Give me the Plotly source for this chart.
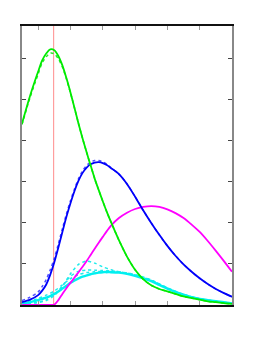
import plotly.graph_objects as go

# x sample positions (data units)
x_main = [0.5, 0.75, 1.0, 1.125, 1.25, 1.375, 1.5, 1.625, 1.75, 1.875, 2.0, 2.125, 2.25,
          2.375, 2.5, 2.625, 2.75, 2.875, 3.0, 3.125, 3.25, 3.5, 3.75, 4.0, 4.25, 4.5,
          4.75, 5.0, 5.25, 5.5, 5.75, 6.0, 6.25, 6.5, 6.75, 7.0]

green = [4.42, 5.10, 5.69, 5.96, 6.13, 6.23, 6.21, 6.07, 5.84, 5.53, 5.18, 4.80, 4.42,
         4.06, 3.72, 3.40, 3.08, 2.80, 2.53, 2.27, 2.03, 1.58, 1.18, 0.86, 0.63, 0.48,
         0.39, 0.33, 0.27, 0.21, 0.17, 0.13, 0.09, 0.07, 0.045, 0.025]
green_sample = [4.40, 5.06, 5.63, 5.90, 6.05, 6.14, 6.12, 6.00, 5.80, 5.51, 5.17, 4.80, 4.42,
                4.06, 3.72, 3.40, 3.08, 2.80, 2.53, 2.27, 2.03, 1.58, 1.18, 0.86, 0.63, 0.48,
                0.39, 0.33, 0.27, 0.21, 0.17, 0.13, 0.09, 0.07, 0.045, 0.025]

blue = [0.07, 0.13, 0.24, 0.35, 0.50, 0.74, 1.04, 1.40, 1.78, 2.15, 2.48, 2.78, 3.03,
        3.22, 3.35, 3.43, 3.47, 3.48, 3.46, 3.41, 3.34, 3.19, 2.95, 2.64, 2.31, 2.00,
        1.71, 1.44, 1.20, 0.99, 0.81, 0.65, 0.51, 0.39, 0.29, 0.20]
blue_sample = [0.11, 0.19, 0.32, 0.45, 0.62, 0.86, 1.14, 1.49, 1.86, 2.22, 2.54, 2.83, 3.08,
               3.27, 3.40, 3.48, 3.52, 3.52, 3.49, 3.43, 3.35, 3.19, 2.95, 2.64, 2.31, 2.00,
               1.71, 1.44, 1.20, 0.99, 0.81, 0.65, 0.51, 0.39, 0.29, 0.20]

magenta = [0.0, 0.0, 0.0, 0.0, 0.0, 0.0, 0.01, 0.12, 0.27, 0.41, 0.54, 0.67, 0.80,
           0.93, 1.07, 1.22, 1.37, 1.52, 1.66, 1.80, 1.93, 2.12, 2.25, 2.34, 2.39, 2.41,
           2.39, 2.33, 2.24, 2.12, 1.96, 1.78, 1.56, 1.32, 1.07, 0.81]

cyan = [0.03, 0.07, 0.12, 0.15, 0.18, 0.22, 0.27, 0.33, 0.40, 0.47, 0.54, 0.60, 0.65,
        0.69, 0.72, 0.75, 0.77, 0.79, 0.80, 0.80, 0.80, 0.79, 0.76, 0.71, 0.65, 0.58,
        0.49, 0.40, 0.32, 0.25, 0.19, 0.15, 0.12, 0.09, 0.07, 0.04]

x_cyan_var = [0.5, 1.0, 1.25, 1.5, 1.75, 2.0, 2.25, 2.5, 2.75, 3.0, 3.25, 3.5, 3.75, 4.0,
              4.5, 5.0, 5.5, 6.0, 6.5, 7.0]
cyan_var1 = [0.02, 0.06, 0.11, 0.23, 0.46, 0.76, 0.99, 1.07, 1.02, 0.93, 0.86, 0.81, 0.78,
             0.73, 0.60, 0.41, 0.25, 0.15, 0.09, 0.04]
cyan_var2 = [0.02, 0.07, 0.13, 0.25, 0.46, 0.70, 0.82, 0.85, 0.85, 0.84, 0.83, 0.81, 0.78,
             0.74, 0.61, 0.42, 0.26, 0.15, 0.09, 0.04]
cyan_var3 = [0.05, 0.16, 0.24, 0.34, 0.49, 0.64, 0.74, 0.79, 0.81, 0.82, 0.81, 0.80, 0.77,
             0.72, 0.60, 0.41, 0.25, 0.15, 0.09, 0.04]

red_x = 1.48
x_ticks = [1, 2, 3, 4, 5, 6]
y_ticks = [1, 2, 3, 4, 5, 6]

fig = go.Figure()

fig.add_trace(go.Scatter(x=[red_x, red_x], y=[0, 6.8], mode="lines",
                         line=dict(color="rgb(255,140,140)", width=1), showlegend=False))

for ys in (cyan_var1, cyan_var2, cyan_var3):
    fig.add_trace(go.Scatter(x=x_cyan_var, y=ys, mode="lines", line_shape="spline",
                             line=dict(color="rgb(30,235,235)", width=1.5, dash="dot", smoothing=0.8),
                             showlegend=False))
fig.add_trace(go.Scatter(x=x_main, y=cyan, mode="lines", line_shape="spline",
                         line=dict(color="rgb(0,240,240)", width=2.4, smoothing=0.8), showlegend=False))

fig.add_trace(go.Scatter(x=x_main, y=magenta, mode="lines", line_shape="spline",
                         line=dict(color="rgb(255,0,255)", width=1.8, smoothing=0.8), showlegend=False))

fig.add_trace(go.Scatter(x=x_main, y=blue_sample, mode="lines", line_shape="spline",
                         line=dict(color="rgb(80,80,255)", width=1.5, dash="dot", smoothing=0.8),
                         showlegend=False))
fig.add_trace(go.Scatter(x=x_main, y=blue, mode="lines", line_shape="spline",
                         line=dict(color="rgb(0,0,250)", width=1.8, smoothing=0.8), showlegend=False))

fig.add_trace(go.Scatter(x=x_main, y=green_sample, mode="lines", line_shape="spline",
                         line=dict(color="rgb(40,235,40)", width=1.5, dash="dot", smoothing=0.8),
                         showlegend=False))
fig.add_trace(go.Scatter(x=x_main, y=green, mode="lines", line_shape="spline",
                         line=dict(color="rgb(0,235,0)", width=1.8, smoothing=0.8), showlegend=False))

fig.update_layout(
    width=247, height=342,
    margin=dict(l=14, r=23, t=18, b=45),
    paper_bgcolor="white", plot_bgcolor="white",
    showlegend=False,
)
fig.update_xaxes(range=[0.5, 7.0], showgrid=False, zeroline=False,
                 showline=True, linecolor="#111", linewidth=1.5, mirror="ticks",
                 ticks="inside", ticklen=4, tickcolor="#999", tickwidth=1,
                 tickvals=x_ticks, showticklabels=False)
fig.update_yaxes(range=[0, 6.8], showgrid=False, zeroline=False,
                 showline=True, linecolor="#888", linewidth=1.5, mirror="ticks",
                 ticks="inside", ticklen=4, tickcolor="#444", tickwidth=1,
                 tickvals=y_ticks, showticklabels=False)

fig.write_html("out.html")
